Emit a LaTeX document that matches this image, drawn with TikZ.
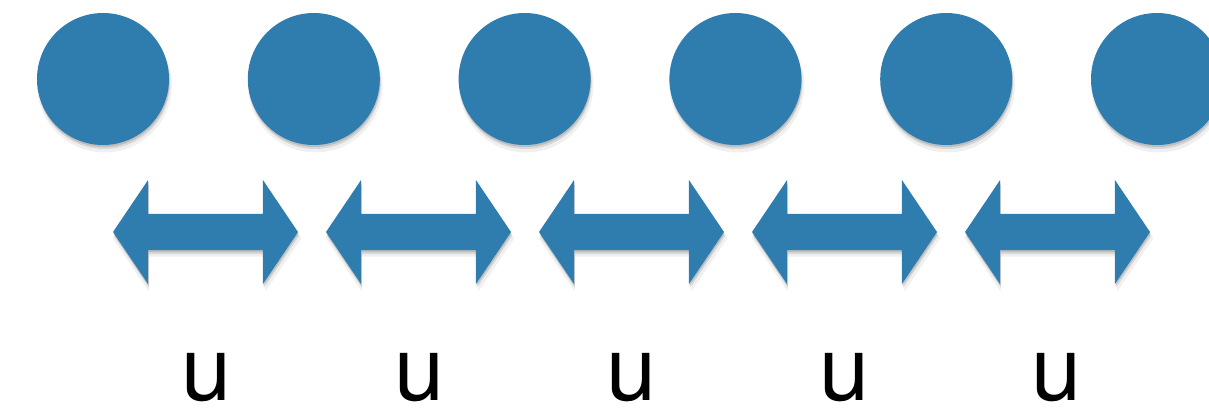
\documentclass[tikz,border=0pt]{standalone}
\usepackage{fontspec}
\setsansfont{TeX Gyre Heros}
\usetikzlibrary{shapes.arrows,shadows}
\definecolor{dotblue}{RGB}{47,124,175}
\begin{document}
\begin{tikzpicture}[x=1pt,y=1pt,
    softshadow/.style={
        drop shadow={shadow xshift=.5pt,shadow yshift=-2pt,opacity=.12,fill=black},
        drop shadow={shadow xshift=1pt,shadow yshift=-4pt,opacity=.1,fill=black},
        drop shadow={shadow xshift=1.5pt,shadow yshift=-6pt,shadow scale=1.02,opacity=.06,fill=black}},
    dot/.style={circle,fill=dotblue,minimum size=132pt,inner sep=0pt,softshadow},
    gap/.style={double arrow,fill=dotblue,minimum height=185pt,inner xsep=0pt,inner ysep=18pt,
        double arrow head extend=34pt,double arrow tip angle=112,softshadow},
    lbl/.style={font=\sffamily\fontsize{90}{90}\selectfont,inner sep=0pt,anchor=base}]
    \useasboundingbox (0,0) rectangle (1209,408);
    \foreach \i in {1,...,6}
        \node[dot] (c\i) at ({103+210.8*(\i-1)},329) {};
    \foreach \i in {1,...,5} {
        \node[gap] (a\i) at ({205.5+213*(\i-1)},176) {};
        \node[lbl] (u\i) at ({207+212.5*(\i-1)},8) {u};
    }
\end{tikzpicture}
\end{document}
